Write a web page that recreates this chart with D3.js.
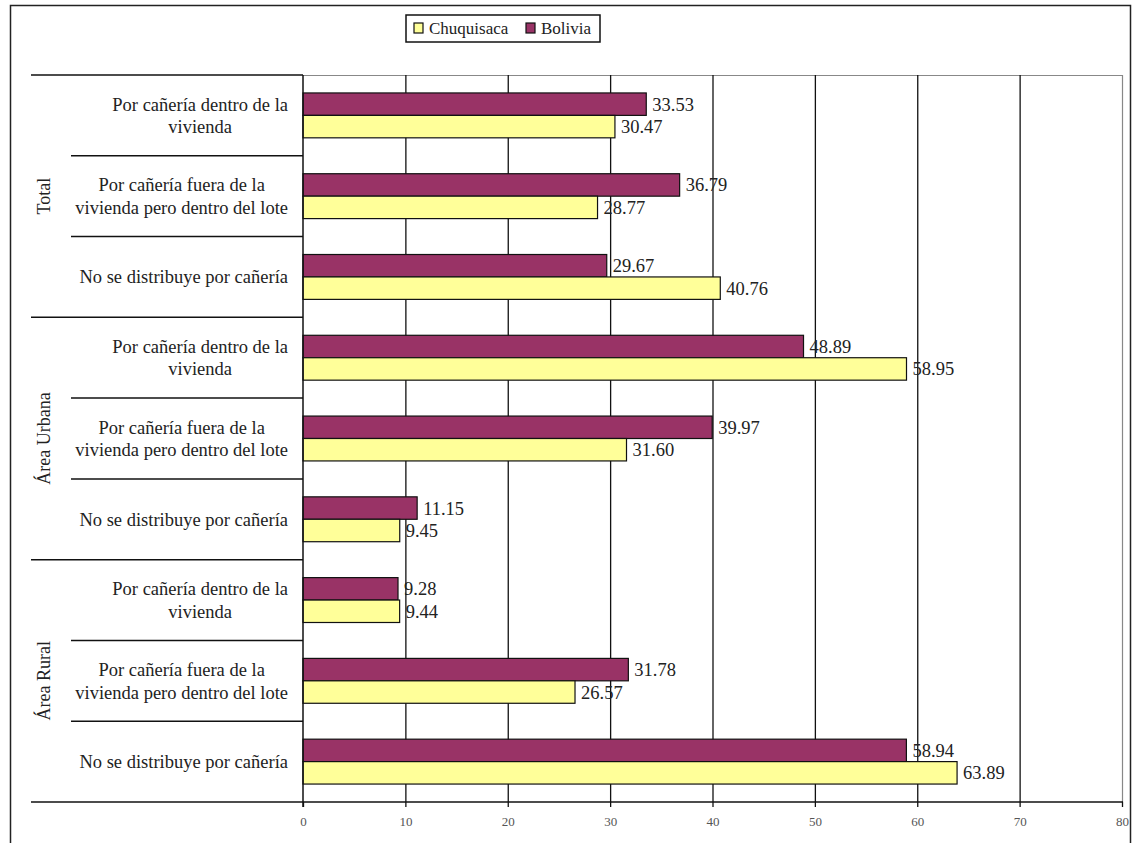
<!DOCTYPE html>
<html lang="es">
<head>
    <meta charset="utf-8">
    <title>Distribución de agua</title>
    <style>
        body {
            margin: 0;
            background: #fff;
        }
    </style>
</head>
<body>
<svg class="chart"></svg>
<script src="https://d3js.org/d3.v7.min.js"></script>
<script>

  const width = 1133;
  const height = 843;
  const serif = '"Liberation Serif", "DejaVu Serif", serif';

  // area groups on the category axis, top to bottom
  const groups = ['Total', 'Área Urbana', 'Área Rural'];

  // the three kinds of water distribution, repeated in every group
  const items = [
    ['Por cañería dentro de la', 'vivienda'],
    ['Por cañería fuera de la', 'vivienda pero dentro del lote'],
    ['No se distribuye por cañería']
  ];

  const seriesNames = ['Chuquisaca', 'Bolivia'];
  const seriesColors = ['#ffff99', '#993366'];

  // percentages, one per group x item
  const chuquisaca = [30.47, 28.77, 40.76, 58.95, 31.60, 9.45, 9.44, 26.57, 63.89];
  const bolivia = [33.53, 36.79, 29.67, 48.89, 39.97, 11.15, 9.28, 31.78, 58.94];

  const xTicks = [0, 10, 20, 30, 40, 50, 60, 70, 80];

  const plot = {left: 303, right: 1122, top: 75, bottom: 802};
  const axisLeftEdge = 31;
  const itemLeftEdge = 71;

  const rows = [];
  groups.forEach((g, gi) => {
    items.forEach((lines, ii) => {
      const k = gi * items.length + ii;
      rows.push({key: k, group: g, lines: lines, Chuquisaca: chuquisaca[k], Bolivia: bolivia[k]});
    });
  });

  const x = d3.scaleLinear()
    .domain([0, 80])
    .range([plot.left, plot.right]);

  const y = d3.scaleBand()
    .domain(rows.map(d => d.key))
    .range([plot.top, plot.bottom]);

  // Bolivia sits above Chuquisaca inside each row
  const ySeries = d3.scaleBand()
    .domain(['Bolivia', 'Chuquisaca'])
    .range([0, y.bandwidth()])
    .paddingOuter(0.8);

  const svg = d3.select('.chart')
    .attr('width', width)
    .attr('height', height)
    .attr('font-family', serif)
    .style('font-family', serif);

  // outer frame
  svg.append('rect')
    .attr('x', 10.5).attr('y', 5.5)
    .attr('width', 1120).attr('height', 860)
    .attr('fill', 'none')
    .attr('stroke', '#222')
    .attr('stroke-width', 1.5);

  // plot area border (top and right)
  svg.append('path')
    .attr('d', `M${plot.left},${plot.top + 0.5}H${plot.right + 0.5}V${plot.bottom}`)
    .attr('fill', 'none')
    .attr('stroke', '#888')
    .attr('stroke-width', 1.2);

  // vertical gridlines
  svg.append('g')
    .attr('transform', `translate(0,${plot.bottom})`)
    .call(d3.axisBottom(x).tickValues(xTicks.slice(1, -1)).tickSize(-(plot.bottom - plot.top)).tickFormat(''))
    .call(g => g.select('.domain').remove())
    .call(g => g.selectAll('line').attr('stroke', '#111').attr('stroke-width', 1.3));

  // bars
  const rowG = svg.selectAll('g.row')
    .data(rows)
    .enter()
    .append('g')
    .attr('class', 'row')
    .attr('transform', d => `translate(0,${y(d.key)})`);

  const bars = rowG.selectAll('g.bar')
    .data(d => ['Bolivia', 'Chuquisaca'].map(s => ({series: s, value: d[s]})))
    .enter()
    .append('g')
    .attr('class', 'bar');

  bars.append('rect')
    .attr('x', x(0))
    .attr('y', d => ySeries(d.series))
    .attr('width', d => x(d.value) - x(0))
    .attr('height', ySeries.bandwidth())
    .attr('fill', d => seriesColors[seriesNames.indexOf(d.series)])
    .attr('stroke', '#111')
    .attr('stroke-width', 1.2);

  bars.append('text')
    .attr('x', d => x(d.value) + 6)
    .attr('y', d => ySeries(d.series) + ySeries.bandwidth() / 2)
    .attr('dy', '0.35em')
    .style('font-family', serif)
    .style('font-size', '18.5px')
    .style('fill', '#222')
    .text(d => d.value.toFixed(2));

  // value axis
  const xAxis = svg.append('g')
    .attr('transform', `translate(0,${plot.bottom})`)
    .call(d3.axisBottom(x).tickValues(xTicks).tickSize(5).tickPadding(10).tickSizeOuter(0))
    .call(g => g.select('.domain').remove());
  xAxis.selectAll('line').attr('stroke', '#111').attr('stroke-width', 1.3);
  xAxis.selectAll('text')
    .style('font-family', serif)
    .style('font-size', '13px')
    .style('fill', '#555');

  svg.append('line')
    .attr('x1', axisLeftEdge).attr('x2', plot.right + 1)
    .attr('y1', plot.bottom).attr('y2', plot.bottom)
    .attr('stroke', '#111').attr('stroke-width', 1.6);

  svg.append('line')
    .attr('x1', plot.left).attr('x2', plot.left)
    .attr('y1', plot.top).attr('y2', plot.bottom + 5)
    .attr('stroke', '#111').attr('stroke-width', 1.5);

  // category dividers: long ones between groups, short ones between items
  const dividers = rows.map(d => ({y: y(d.key), long: d.key % items.length === 0}));
  svg.selectAll('line.divider')
    .data(dividers)
    .enter()
    .append('line')
    .attr('class', 'divider')
    .attr('x1', d => d.long ? axisLeftEdge : itemLeftEdge)
    .attr('x2', plot.left)
    .attr('y1', d => d.y)
    .attr('y2', d => d.y)
    .attr('stroke', '#111')
    .attr('stroke-width', 1.5);

  // item labels: lines centred in a box that is right-aligned to the axis
  const labelRight = 288;
  const lineGap = 22.5;
  rows.forEach(d => {
    const g = svg.append('g');
    const texts = d.lines.map((line, i) => g.append('text')
      .style('font-family', serif)
      .style('font-size', '18.5px')
      .style('fill', '#222')
      .attr('y', y(d.key) + y.bandwidth() / 2 + (i - (d.lines.length - 1) / 2) * lineGap)
      .attr('dy', '0.35em')
      .attr('text-anchor', 'middle')
      .text(line));
    const boxWidth = d3.max(texts, t => t.node().getComputedTextLength());
    texts.forEach(t => t.attr('x', labelRight - boxWidth / 2));
  });

  // group labels, rotated
  groups.forEach((g, gi) => {
    const first = y(gi * items.length);
    const last = y(gi * items.length + items.length - 1) + y.bandwidth();
    svg.append('text')
      .attr('transform', `translate(44,${(first + last) / 2}) rotate(-90)`)
      .attr('text-anchor', 'middle')
      .attr('dy', '0.35em')
      .style('font-family', serif)
      .style('font-size', '18px')
      .style('fill', '#222')
      .text(g);
  });

  // legend
  const legend = svg.append('g').attr('transform', 'translate(406,15)');
  legend.append('rect')
    .attr('width', 194).attr('height', 27)
    .attr('fill', '#fff')
    .attr('stroke', '#111').attr('stroke-width', 1.5);
  const legendX = [8, 120];
  seriesNames.forEach((s, i) => {
    legend.append('rect')
      .attr('x', legendX[i]).attr('y', 8)
      .attr('width', 9).attr('height', 10)
      .attr('fill', seriesColors[i])
      .attr('stroke', '#111').attr('stroke-width', 1.2);
    legend.append('text')
      .attr('x', legendX[i] + 15).attr('y', 13.5)
      .attr('dy', '0.35em')
      .style('font-family', serif)
      .style('font-size', '17px')
      .style('fill', '#222')
      .text(s);
  });

</script>
</body>
</html>
